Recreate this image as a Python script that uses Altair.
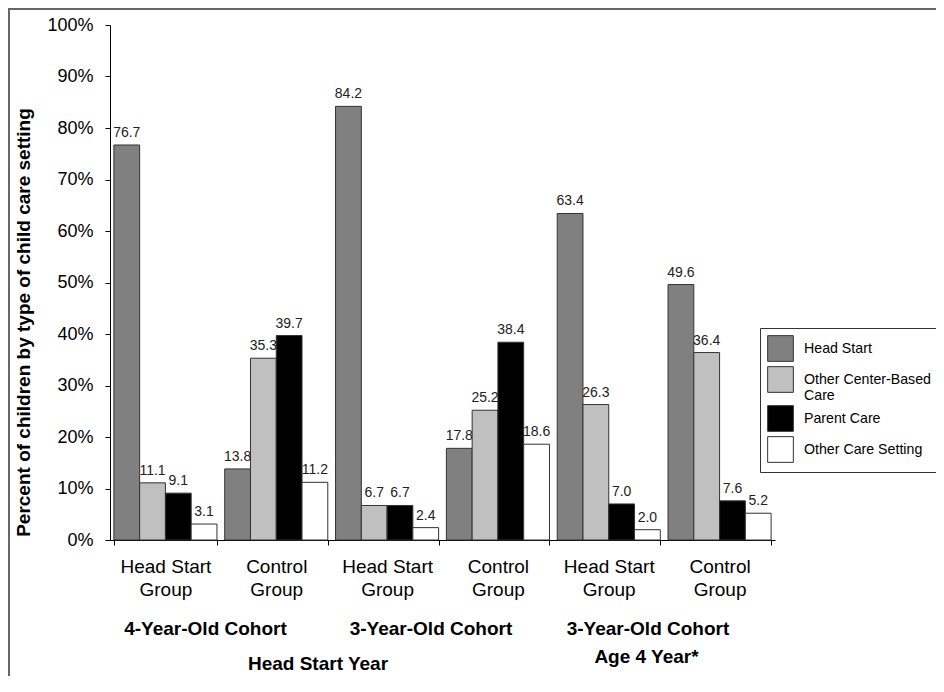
import altair as alt
import pandas as pd

# ---- data ----
groups = ["1|Head Start|Group", "2|Control|Group", "3|Head Start|Group",
          "4|Control|Group", "5|Head Start|Group", "6|Control|Group"]
settings = ["Head Start", "Other Center-Based Care", "Parent Care", "Other Care Setting"]
setting_colors = ["#808080", "#C0C0C0", "#000000", "#FFFFFF"]
head_start = [76.7, 13.8, 84.2, 17.8, 63.4, 49.6]
other_center = [11.1, 35.3, 6.7, 25.2, 26.3, 36.4]
parent_care = [9.1, 39.7, 6.7, 38.4, 7.0, 7.6]
other_care = [3.1, 11.2, 2.4, 18.6, 2.0, 5.2]
y_ticks = [0, 10, 20, 30, 40, 50, 60, 70, 80, 90, 100]
y_title = "Percent of children by type of child care setting"
cohort_labels = ["4-Year-Old Cohort", "3-Year-Old Cohort", "3-Year-Old Cohort"]
period_labels = ["Head Start Year", "Age 4 Year*"]

series = [head_start, other_center, parent_care, other_care]
rows = []
for s, vals in zip(settings, series):
    for g, v in zip(groups, vals):
        rows.append({"group": g, "setting": s, "value": v})
df = pd.DataFrame(rows)

FONT = "Liberation Sans"

x_enc = alt.X(
    "group:N", sort=groups,
    scale=alt.Scale(paddingInner=0.07, paddingOuter=0.035),
    axis=alt.Axis(
        title=None, labelExpr="slice(split(datum.label, '|'), 1)",
        tickBand="extent", labelAngle=0, labelFontSize=19, labelLineHeight=23,
        labelPadding=12, tickSize=5, labelColor="#000", labelFont=FONT,
        domainColor="#000", tickColor="#000", labelBaseline="top",
    ),
)
xoff_enc = alt.XOffset("setting:N", sort=settings,
                       scale=alt.Scale(paddingInner=0, paddingOuter=0))
y_enc = alt.Y(
    "value:Q", scale=alt.Scale(domain=[0, 100], nice=False),
    axis=alt.Axis(
        values=y_ticks, labelExpr="datum.value + '%'", title=y_title,
        titleFontSize=19, titleFontWeight="bold", titleFont=FONT, titleColor="#000",
        titleX=-87, titleY=297, titleAngle=270, titleBaseline="middle", titleAlign="center",
        labelFontSize=18, labelFont=FONT, labelColor="#000", labelPadding=12,
        tickSize=5, domainColor="#000", tickColor="#000", grid=False,
    ),
)

bars = alt.Chart(df).mark_bar(stroke="#333333", strokeWidth=1).encode(
    x=x_enc, xOffset=xoff_enc, y=y_enc,
    color=alt.Color(
        "setting:N", sort=settings,
        scale=alt.Scale(domain=settings, range=setting_colors),
        legend=alt.Legend(
            title=None, orient="none", legendX=650, legendY=303,
            padding=7, strokeColor="#333", fillColor="#FFFFFF",
            symbolType="square", symbolSize=660, symbolStrokeColor="#333",
            symbolStrokeWidth=1, symbolOpacity=1, labelFontSize=14.2,
            labelFont=FONT, labelColor="#000", labelOffset=10, rowPadding=0,
            labelLimit=400,
            labelExpr="datum.label == 'Other Center-Based Care' ? ['Other Center-Based', 'Care'] : datum.label",
        ),
    ),
)

value_labels = alt.Chart(df).mark_text(
    baseline="alphabetic", dy=-8, fontSize=14, font=FONT, color="#222"
).encode(
    x=x_enc, xOffset=xoff_enc, y=y_enc,
    text=alt.Text("value:Q", format=".1f"),
)

one = alt.Data(values=[{}])


def note(text, x, y):
    return alt.Chart(one).mark_text(
        text=text, fontSize=19, fontWeight="bold", font=FONT, color="#000",
        align="center", baseline="middle",
    ).encode(x=alt.value(x), y=alt.value(y))


notes = [
    note(cohort_labels[0], 95.5, 604),
    note(cohort_labels[1], 321, 604),
    note(cohort_labels[2], 538, 604),
    note(period_labels[0], 208, 639),
    note(period_labels[1], 536.5, 632),
]

frame_left = alt.Chart(one).mark_rule(color="#666666", strokeWidth=2).encode(
    x=alt.value(-101), y=alt.value(-17), y2=alt.value(660)
)
frame_top = alt.Chart(one).mark_rule(color="#666666", strokeWidth=2).encode(
    x=alt.value(-102), x2=alt.value(830), y=alt.value(-16)
)

chart = alt.layer(bars, value_labels, *notes, frame_left, frame_top).properties(
    width=665, height=515, autosize="none", background="#FFFFFF",
    padding={"left": 102, "top": 17, "right": 161, "bottom": 136},
).configure_view(stroke=None)

chart.save("out.html", embed_options={"renderer": "svg", "actions": False})
